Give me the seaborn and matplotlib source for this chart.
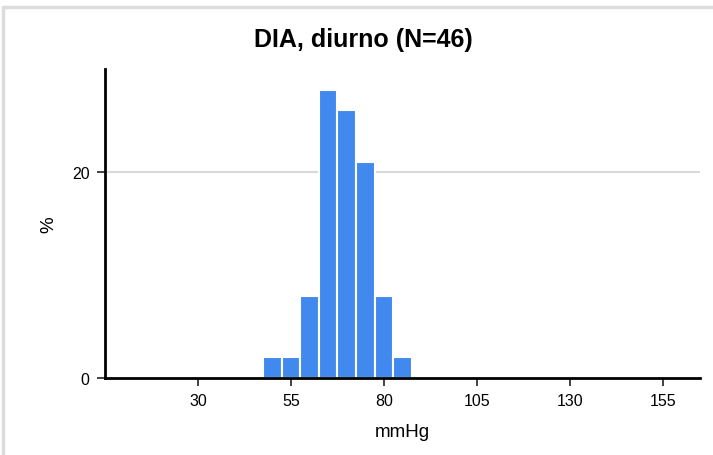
import pandas as pd
import seaborn as sns
import matplotlib.pyplot as plt
from matplotlib.lines import Line2D

# bin centres (mmHg) and share of readings (%)
centers = [50, 55, 60, 65, 70, 75, 80, 85]
pct = [2, 2, 8, 28, 26, 21, 8, 2]
xticks = [30, 55, 80, 105, 130, 155]
yticks = [0, 20]

df = pd.DataFrame({"mmHg": centers, "pct": pct})

sns.set_style("white")
plt.rcParams['font.family'] = ['Liberation Sans', 'DejaVu Sans']
plt.rcParams['text.color'] = 'black'
plt.rcParams['axes.labelcolor'] = 'black'
plt.rcParams['xtick.color'] = 'black'
plt.rcParams['ytick.color'] = 'black'
plt.rcParams['xtick.bottom'] = True
plt.rcParams['ytick.left'] = True
plt.rcParams['xtick.major.size'] = 6
plt.rcParams['ytick.major.size'] = 6

fig = plt.figure(figsize=(7.13, 4.56), dpi=100)
ax = fig.add_axes([0.147, 0.169, 0.835, 0.677])

sns.histplot(data=df, x="mmHg", weights="pct", binwidth=5, binrange=(47.5, 87.5),
             ax=ax, color="#4189EF", alpha=1, edgecolor="white", linewidth=1.5)

ax.set_xlim(5, 165)
ax.set_ylim(0, 30)
ax.set_xticks(xticks)
ax.set_yticks(yticks)
ax.axhline(20, color="#d9d9d9", lw=1.5, zorder=0)
ax.set_axisbelow(True)

for s in ["top", "right"]:
    ax.spines[s].set_visible(False)
for s in ["left", "bottom"]:
    ax.spines[s].set_color("black")
    ax.spines[s].set_linewidth(2)
ax.tick_params(axis="both", bottom=True, left=True, length=6, width=1.2,
               color="#222222", labelsize=11.5, pad=5)

fig.suptitle("DIA, diurno (N=46)", x=0.51, y=0.912, va="center",
             fontsize=18, fontweight="bold")
ax.set_xlabel("mmHg", fontsize=13.5, labelpad=11)
ax.set_ylabel("%", fontsize=13.5)
ax.yaxis.set_label_coords(-0.08, 0.5)

# light frame along the top and left edge
fig.add_artist(Line2D([0.004, 1.0], [0.982, 0.982], transform=fig.transFigure,
                      color="#dcdcdc", lw=2.5))
fig.add_artist(Line2D([0.004, 0.004], [0.0, 0.982], transform=fig.transFigure,
                      color="#dcdcdc", lw=2.5))

fig.savefig("out.png", dpi=100)
